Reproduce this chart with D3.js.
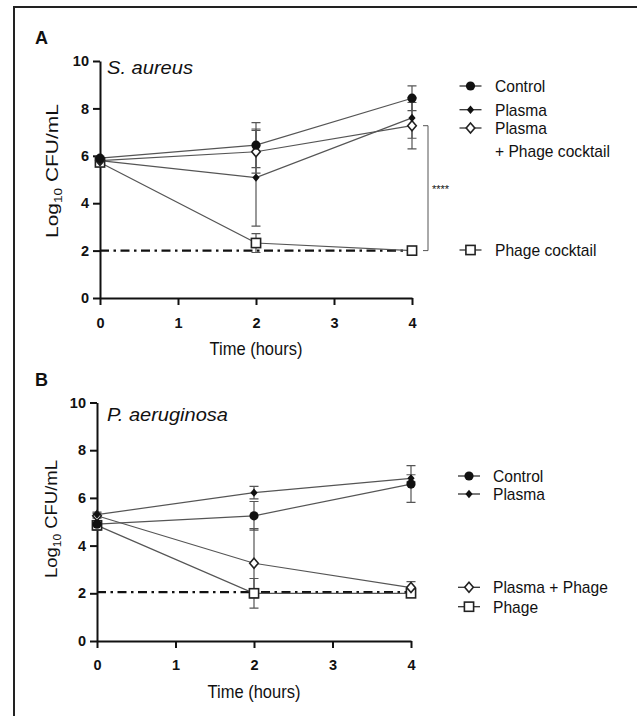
<!DOCTYPE html>
<html>
<head>
<meta charset="utf-8">
<script src="https://cdn.jsdelivr.net/npm/d3@7"></script>
<style>
body{margin:0;background:#fff}
svg{display:block}
text{font-family:'Liberation Sans',Arial,Helvetica,sans-serif;fill:#111}
</style>
</head>
<body>
<div id="graph"></div>
<script>
var times = [0, 2, 4]
var xTicks = [0, 1, 2, 3, 4]
var yTicks = [0, 2, 4, 6, 8, 10]

// S. aureus, log10 CFU/mL
var saControl = [5.9, 6.45, 8.43]
var saControlSd = [0.08, 0.95, 0.52]
var saPlasma = [5.8, 5.08, 7.6]
var saPlasmaSd = [0.08, 2.05, 0.86]
var saPlasmaPhage = [5.8, 6.17, 7.27]
var saPlasmaPhageSd = [0.12, 0.9, 0.98]
var saPhage = [5.72, 2.32, 2.0]
var saPhageSd = [0.14, 0.4, 0.04]
var saLod = 2

// P. aeruginosa, log10 CFU/mL
var paControl = [4.9, 5.25, 6.58]
var paControlSd = [0.1, 0.6, 0.77]
var paPlasma = [5.3, 6.22, 6.82]
var paPlasmaSd = [0.1, 0.26, 0.15]
var paPlasmaPhage = [5.25, 3.26, 2.24]
var paPlasmaPhageSd = [0.1, 1.45, 0.25]
var paPhage = [4.85, 2.0, 2.0]
var paPhageSd = [0.2, 0.62, 0.04]
var paLod = 2.05

var panels = [
  {
    letter: 'A', organism: 'S. aureus', lod: saLod,
    x: [100, 412], y: [298, 61], letterY: 44, orgX: 107, orgY: 74, orgLen: 86,
    yLabelX: 58, yLabelY: 171, yLabelLen: 134, tickY: 328, titleY: 355, titleX: 256,
    legendX: 470.5, legendTextX: 495,
    series: [
      {name: ['Control'], shape: 'circle', values: saControl, sd: saControlSd, ly: 86},
      {name: ['Plasma'], shape: 'diamond', values: saPlasma, sd: saPlasmaSd, ly: 109.7},
      {name: ['Plasma', '+ Phage cocktail'], shape: 'odiamond', values: saPlasmaPhage, sd: saPlasmaPhageSd, ly: 128},
      {name: ['Phage cocktail'], shape: 'square', values: saPhage, sd: saPhageSd, ly: 250}
    ],
    bracket: true
  },
  {
    letter: 'B', organism: 'P. aeruginosa', lod: paLod,
    x: [97, 411], y: [641, 402.5], letterY: 386, orgX: 107, orgY: 421, orgLen: 121,
    yLabelX: 57, yLabelY: 519, yLabelLen: 118, tickY: 670, titleY: 698, titleX: 254,
    legendX: 469, legendTextX: 493,
    series: [
      {name: ['Control'], shape: 'circle', values: paControl, sd: paControlSd, ly: 476},
      {name: ['Plasma'], shape: 'diamond', values: paPlasma, sd: paPlasmaSd, ly: 494},
      {name: ['Plasma + Phage'], shape: 'odiamond', values: paPlasmaPhage, sd: paPlasmaPhageSd, ly: 587.3},
      {name: ['Phage'], shape: 'square', values: paPhage, sd: paPhageSd, ly: 606.7}
    ]
  }
]

var svg = d3.select('#graph').append('svg').attr('width', 637).attr('height', 716)

svg.append('rect')
  .attr('x', 14).attr('y', 7).attr('width', 700).attr('height', 800)
  .attr('fill', 'none').attr('stroke', '#222').attr('stroke-width', 2)

function marker(sel, shape) {
  if (shape == 'circle') {
    sel.append('circle').attr('r', 4.6).attr('fill', '#111')
  } else if (shape == 'diamond') {
    sel.append('path').attr('d', 'M0,-4.2L3.6,0L0,4.2L-3.6,0Z').attr('fill', '#111')
  } else if (shape == 'odiamond') {
    sel.append('path').attr('d', 'M0,-5L4.3,0L0,5L-4.3,0Z')
      .attr('fill', '#fff').attr('stroke', '#222').attr('stroke-width', 1.6)
  } else {
    sel.append('rect').attr('x', -4.6).attr('y', -4.6).attr('width', 9.2).attr('height', 9.2)
      .attr('fill', '#fff').attr('stroke', '#222').attr('stroke-width', 1.6)
  }
}

// text in the figure is a bit taller than it is wide
function tallText(sel, t, x, y, size, sy) {
  return sel.append('text').text(t)
    .attr('transform', `translate(${x},${y}) scale(1,${sy})`)
    .style('font-size', size + 'px')
}

panels.forEach(p => {
  var x = d3.scaleLinear().domain([0, 4]).range(p.x)
  var y = d3.scaleLinear().domain([0, 10]).range(p.y)
  var g = svg.append('g')

  g.append('text').text(p.letter)
    .attr('x', 35).attr('y', p.letterY)
    .style('font-weight', 'bold').style('font-size', '18px')

  g.append('text').text(p.organism)
    .attr('x', p.orgX).attr('y', p.orgY)
    .attr('textLength', p.orgLen).attr('lengthAdjust', 'spacingAndGlyphs')
    .style('font-style', 'italic').style('font-size', '19px')

  var yl = g.append('text')
    .attr('transform', `translate(${p.yLabelX},${p.yLabelY}) rotate(-90)`)
    .attr('text-anchor', 'middle')
    .style('font-size', '17px')
  yl.append('tspan').text('Log')
  yl.append('tspan').text('10').attr('dy', 4).style('font-size', '11px')
  yl.append('tspan').text(' CFU/mL').attr('dy', -4)
  var natural = yl.node().getComputedTextLength()
  yl.attr('transform', `translate(${p.yLabelX},${p.yLabelY}) rotate(-90) scale(${p.yLabelLen / natural},1)`)

  var yAxis = g.append('g').attr('transform', `translate(${p.x[0]},0)`)
    .call(d3.axisLeft(y).tickValues(yTicks).tickFormat(d3.format('d')).tickSize(7).tickSizeOuter(0).tickPadding(4))
  var xAxis = g.append('g').attr('transform', `translate(0,${p.y[0]})`)
    .call(d3.axisBottom(x).tickValues(xTicks).tickFormat(d3.format('d')).tickSize(7).tickSizeOuter(0).tickPadding(4))
  ;[yAxis, xAxis].forEach(a => {
    a.select('.domain').attr('stroke', '#111').attr('stroke-width', 2)
    a.selectAll('.tick line').attr('stroke', '#111').attr('stroke-width', 2)
    a.selectAll('.tick text').style('font-size', '14.5px').style('font-weight', 'bold')
      .style('font-family', "'Liberation Sans',Arial,sans-serif").attr('fill', '#111')
  })
  xAxis.selectAll('.tick text').attr('dy', null).attr('y', p.tickY - p.y[0])

  tallText(g, 'Time (hours)', p.titleX, p.titleY, 16.5, 1.15).attr('text-anchor', 'middle')

  g.append('line')
    .attr('x1', x(0)).attr('x2', x(4)).attr('y1', y(p.lod)).attr('y2', y(p.lod))
    .attr('stroke', '#111').attr('stroke-width', 2.4).attr('stroke-dasharray', '9,4.5,2.5,4.5')

  var line = d3.line().x((d, i) => x(times[i])).y(d => y(d))

  p.series.forEach(s => {
    g.append('path').attr('d', line(s.values))
      .attr('fill', 'none').attr('stroke', '#555').attr('stroke-width', 1.2)
  })

  p.series.forEach(s => {
    s.values.forEach((v, i) => {
      var cx = x(times[i]), lo = y(v - s.sd[i]), hi = y(v + s.sd[i])
      g.append('path')
        .attr('d', `M${cx},${lo}V${hi}M${cx - 4.5},${lo}H${cx + 4.5}M${cx - 4.5},${hi}H${cx + 4.5}`)
        .attr('fill', 'none').attr('stroke', '#555').attr('stroke-width', 1.2)
    })
  })

  p.series.slice().reverse().forEach(s => {
    s.values.forEach((v, i) => {
      marker(g.append('g').attr('transform', `translate(${x(times[i])},${y(v)})`), s.shape)
    })
  })

  p.series.forEach(s => {
    g.append('line')
      .attr('x1', p.legendX - 11).attr('x2', p.legendX + 11).attr('y1', s.ly).attr('y2', s.ly)
      .attr('stroke', '#333').attr('stroke-width', 1.3)
    marker(g.append('g').attr('transform', `translate(${p.legendX},${s.ly})`), s.shape)
    s.name.forEach((t, j) => {
      tallText(g, t, p.legendTextX, s.ly + 6 + j * 23, 15.6, 1.02)
    })
  })

  if (p.bracket) {
    var top = y(saPlasmaPhage[2]), bot = y(saLod), bx = x(4) + 16
    g.append('path')
      .attr('d', `M${bx - 5},${top}H${bx}V${bot}H${bx - 5}`)
      .attr('fill', 'none').attr('stroke', '#555').attr('stroke-width', 1)
    g.append('text').text('****')
      .attr('x', bx + 4).attr('y', (top + bot) / 2 + 5)
      .style('font-size', '11px').attr('fill', '#333')
  }
})
</script>
</body>
</html>
